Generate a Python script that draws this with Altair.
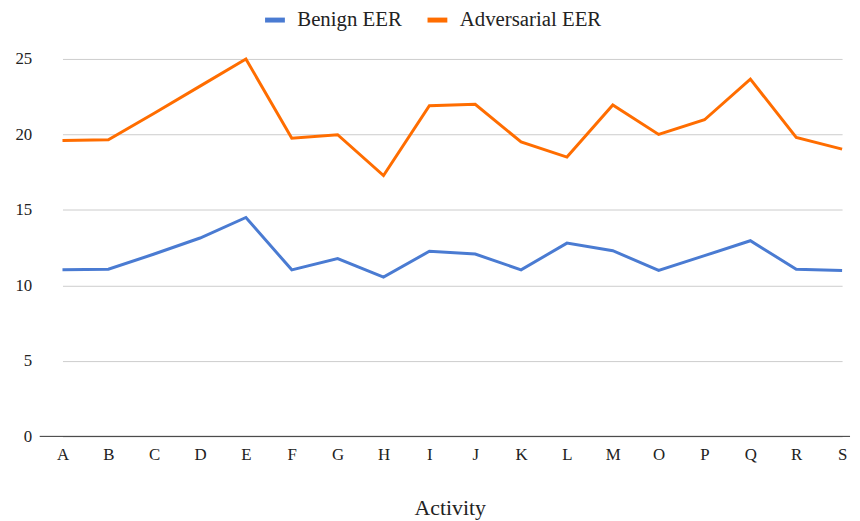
import altair as alt
import pandas as pd

activities = ["A", "B", "C", "D", "E", "F", "G", "H", "I", "J", "K", "L", "M", "O", "P", "Q", "R", "S"]
benign = [11.03, 11.07, 12.08, 13.14, 14.5, 11.03, 11.78, 10.55, 12.26, 12.08, 11.03, 12.8, 12.3, 10.99, 11.97, 12.96, 11.07, 10.99]
adversarial = [19.6, 19.65, 21.4, 23.2, 25.0, 19.75, 19.98, 17.28, 21.9, 22.0, 19.5, 18.5, 21.95, 20.0, 20.97, 23.66, 19.8, 19.03]

series_names = ["Benign EER", "Adversarial EER"]
colors = ["#4a7bd2", "#ff6d00"]

rows = []
for i, a in enumerate(activities):
    rows.append({"Activity": a, "Series": series_names[0], "Value": benign[i]})
    rows.append({"Activity": a, "Series": series_names[1], "Value": adversarial[i]})
df = pd.DataFrame(rows)

FONT = "Liberation Serif"

chart = alt.Chart(df).mark_line(strokeWidth=3).encode(
    x=alt.X("Activity:N", sort=activities, scale=alt.Scale(type="point", range=[23, 810], padding=0),
            axis=alt.Axis(title="Activity", labelAngle=0, ticks=False, domain=False, grid=False,
                          labelPadding=10, titlePadding=36, labelFontSize=17, titleFontSize=22,
                          labelFont=FONT, titleFont=FONT, labelColor="#222222", titleColor="#222222",
                          titleFontWeight="normal", titleX=414)),
    y=alt.Y("Value:Q", scale=alt.Scale(domain=[0, 25]),
            axis=alt.Axis(title=None, values=[0, 5, 10, 15, 20, 25], ticks=False, domain=False,
                          labelPadding=8, labelFontSize=17, labelFont=FONT, labelColor="#222222",
                          gridColor="#cccccc", gridWidth=1)),
    color=alt.Color("Series:N", scale=alt.Scale(domain=series_names, range=colors),
                    legend=alt.Legend(title=None, orient="none", direction="horizontal",
                                      legendX=225, legendY=-52, symbolType="stroke",
                                      symbolStrokeWidth=5, symbolSize=400, labelFontSize=21,
                                      labelFont=FONT, labelColor="#222222", columnPadding=15,
                                      labelOffset=10)),
    detail="Series:N",
)

baseline = alt.Chart(pd.DataFrame({"y": [0]})).mark_rule(color="#333333", strokeWidth=1).encode(
    y=alt.Y("y:Q", scale=alt.Scale(domain=[0, 25]))
)

final = alt.layer(chart, baseline).properties(
    width=818, height=381,
    autosize=alt.AutoSizeParams(type="none"),
    padding={"left": 32, "top": 49, "right": 2, "bottom": 83},
).configure_view(stroke=None)

final.save("out.html", embed_options={"renderer": "svg", "actions": False})
